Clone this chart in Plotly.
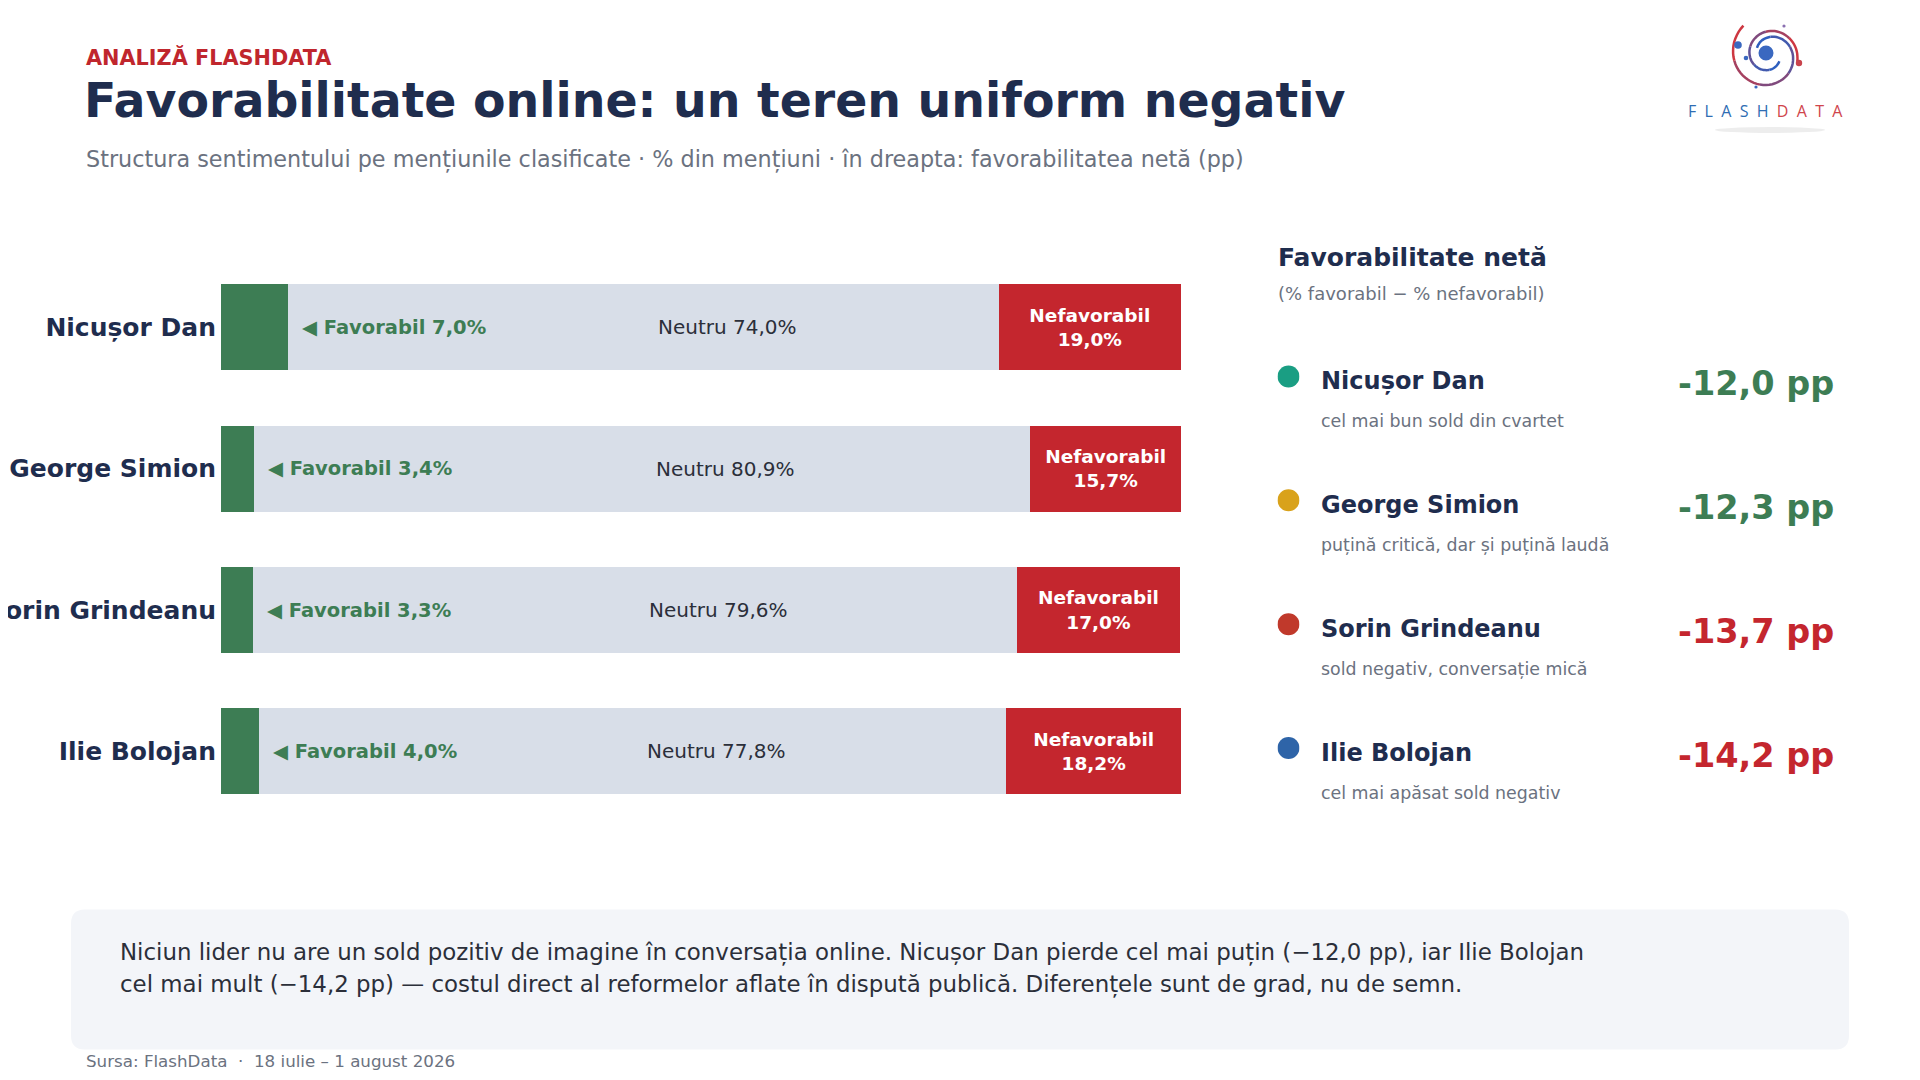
import numpy as np
import plotly.graph_objects as go

# date
candidati = ["Nicușor Dan", "George Simion", "Sorin Grindeanu", "Ilie Bolojan"]
favorabil = [7.0, 3.4, 3.3, 4.0]
neutru = [74.0, 80.9, 79.6, 77.8]
nefavorabil = [19.0, 15.7, 17.0, 18.2]
net = [-12.0, -12.3, -13.7, -14.2]
comentarii = ["cel mai bun sold din cvartet",
              "puțină critică, dar și puțină laudă",
              "sold negativ, conversație mică",
              "cel mai apăsat sold negativ"]
culori_puncte = ["#1a9e83", "#d9a21b", "#c0392b", "#2e64a8"]

W, H = 1920, 1080
FONT = "DejaVu Sans"
NAVY = "#1f2d4e"
GRAY = "#6b7280"
GREEN = "#3d7d54"
RED = "#c4262e"
NEUTRAL = "#d8dee8"


def fmt(v):
    return f"{v:.1f}".replace(".", ",")


def px(x):
    return x / W


def py(y):
    return 1 - y / H


fig = go.Figure()

fig.add_trace(go.Bar(y=candidati, x=favorabil, orientation="h", marker_color=GREEN,
                     width=0.61, hoverinfo="skip"))
fig.add_trace(go.Bar(y=candidati, x=neutru, orientation="h", marker_color=NEUTRAL,
                     width=0.61, hoverinfo="skip"))
fig.add_trace(go.Bar(y=candidati, x=nefavorabil, orientation="h", marker_color=RED,
                     width=0.61, hoverinfo="skip",
                     text=[f"<b>Nefavorabil<br>{fmt(v)}%</b>" for v in nefavorabil],
                     textposition="inside", insidetextanchor="middle",
                     constraintext="none",
                     textfont=dict(family=FONT, size=18.5, color="white")))

# puncte pentru panoul din dreapta
fig.add_trace(go.Scatter(x=[0] * len(candidati), y=list(range(len(candidati))),
                         xaxis="x2", yaxis="y2", mode="markers",
                         marker=dict(size=22, color=culori_puncte), hoverinfo="skip"))

ann = []
for i, name in enumerate(candidati):
    ann.append(dict(x=favorabil[i], y=name, xref="x", yref="y", xanchor="left",
                    xshift=12, showarrow=False,
                    text=f"<b>◀ Favorabil {fmt(favorabil[i])}%</b>",
                    font=dict(family=FONT, size=19.5, color=GREEN)))
    ann.append(dict(x=favorabil[i] + neutru[i] / 2, y=name, xref="x", yref="y",
                    xshift=84, showarrow=False,
                    text=f"Neutru {fmt(neutru[i])}%",
                    font=dict(family=FONT, size=20, color="#2b2f3a")))
    # panoul net
    ann.append(dict(x=px(1311), y=i, xref="paper", yref="y2", xanchor="left",
                    yanchor="middle", yshift=-5, showarrow=False,
                    text=f"<b>{name}</b>", font=dict(family=FONT, size=24, color=NAVY)))
    ann.append(dict(x=px(1311), y=i, xref="paper", yref="y2", xanchor="left",
                    yanchor="middle", yshift=-45, showarrow=False,
                    text=comentarii[i], font=dict(family=FONT, size=17.4, color=GRAY)))
    ann.append(dict(x=px(1828), y=i, xref="paper", yref="y2", xanchor="right",
                    yanchor="middle", yshift=-7, showarrow=False,
                    text=f"<b>{fmt(net[i])} pp</b>",
                    font=dict(family=FONT, size=33.5, color=GREEN if net[i] > -13 else RED)))

texts = [
    (76, 50, "<b>ANALIZĂ FLASHDATA</b>", 20.8, "#c0262d"),
    (74, 92.5, "<b>Favorabilitate online: un teren uniform negativ</b>", 47.4, NAVY),
    (76, 151, "Structura sentimentului pe mențiunile clasificate · % din mențiuni · "
              "în dreapta: favorabilitatea netă (pp)", 22.3, GRAY),
    (1268, 249, "<b>Favorabilitate netă</b>", 25, NAVY),
    (1268, 285.5, "(% favorabil − % nefavorabil)", 18, GRAY),
    (110, 944, "Niciun lider nu are un sold pozitiv de imagine în conversația online. "
               "Nicușor Dan pierde cel mai puțin (−12,0 pp), iar Ilie Bolojan", 22.9, "#2b2f3a"),
    (110, 976, "cel mai mult (−14,2 pp) — costul direct al reformelor aflate în "
               "dispută publică. Diferențele sunt de grad, nu de semn.", 22.9, "#2b2f3a"),
    (76, 1052.5, "Sursa: FlashData  ·  18 iulie – 1 august 2026", 16.7, GRAY),
]
for x, y, t, s, c in texts:
    ann.append(dict(x=px(x), y=py(y), xref="paper", yref="paper", xanchor="left",
                    yanchor="middle", showarrow=False, text=t,
                    font=dict(family=FONT, size=s, color=c)))

# logo
LX, LY = 1761, 47
ann.append(dict(x=px(1757), y=py(103.5), xref="paper", yref="paper", xanchor="center",
                yanchor="middle", showarrow=False,
                text='<span style="color:#2f6db3">F  L  A  S  H</span>  '
                     '<span style="color:#d0454c">D  A  T  A</span>',
                font=dict(family="Open Sans", size=16)))

shapes = []
# fundal caseta de concluzie (colturi rotunjite)
w, h, r = 889, 70, 14
box = (f"M {-w + r},{-h} L {w - r},{-h} Q {w},{-h} {w},{-h + r} L {w},{h - r} "
       f"Q {w},{h} {w - r},{h} L {-w + r},{h} Q {-w},{h} {-w},{h - r} "
       f"L {-w},{-h + r} Q {-w},{-h} {-w + r},{-h} Z")
shapes.append(dict(type="path", xref="paper", yref="paper", xsizemode="pixel",
                   ysizemode="pixel", xanchor=px(952), yanchor=py(971.5), path=box,
                   fillcolor="#f3f5f9", line=dict(width=0), layer="below"))

# logo: umbra + spirala
shapes.append(dict(type="circle", xref="paper", yref="paper", xsizemode="pixel",
                   ysizemode="pixel", xanchor=px(1762), yanchor=py(122),
                   x0=-55, x1=55, y0=-3, y1=3, fillcolor="rgba(0,0,0,0.07)",
                   line=dict(width=0), layer="below"))
blue, red = np.array([47, 95, 190]), np.array([205, 55, 65])
for start, r0, r1, turns in [(2.6, 14, 39, 1.05), (2.6 + np.pi, 12, 29, 0.95)]:
    th = np.linspace(0, 2 * np.pi * turns, 66)
    rad = r0 + (r1 - r0) * th / th[-1]
    segs = 6
    for k in range(segs):
        a, b = k * 11, k * 11 + 12
        pts = [f"{rr * np.cos(start - t):.1f},{rr * np.sin(start - t):.1f}"
               for t, rr in zip(th[a:b], rad[a:b])]
        c = blue + (red - blue) * (k / (segs - 1)) ** 1.3
        shapes.append(dict(type="path", xref="paper", yref="paper", xsizemode="pixel",
                           ysizemode="pixel", xanchor=px(LX), yanchor=py(LY),
                           path="M " + " L ".join(pts),
                           line=dict(color=f"rgb({int(c[0])},{int(c[1])},{int(c[2])})",
                                     width=2.5)))
shapes.append(dict(type="circle", xref="paper", yref="paper", xsizemode="pixel",
                   ysizemode="pixel", xanchor=px(LX - 3), yanchor=py(LY - 2),
                   x0=-7.5, x1=7.5, y0=-7.5, y1=7.5, fillcolor="#3a68c0", line=dict(width=0)))
for dx, dy, rr, col in [(-31, 10, 3.8, "#3a68c0"), (30, -8, 3.2, "#c9434c"),
                        (-23, -3, 2.3, "#3a68c0"), (15, 29, 1.6, "#8a6fb0"),
                        (-13, -32, 1.6, "#3a68c0")]:
    shapes.append(dict(type="circle", xref="paper", yref="paper", xsizemode="pixel",
                       ysizemode="pixel", xanchor=px(LX), yanchor=py(LY),
                       x0=dx - rr, x1=dx + rr, y0=dy - rr, y1=dy + rr,
                       fillcolor=col, line=dict(width=0)))

fig.update_layout(
    template="none",
    width=W, height=H, barmode="stack", showlegend=False,
    paper_bgcolor="white", plot_bgcolor="white",
    margin=dict(l=0, r=0, t=0, b=0, autoexpand=False),
    font=dict(family=FONT),
    xaxis=dict(domain=[px(213), px(1173)], range=[0, 100], visible=False,
               automargin=False, fixedrange=True),
    yaxis=dict(domain=[py(814), py(248.7)], categoryorder="array", categoryarray=candidati,
               autorange="reversed", showgrid=False, zeroline=False, showline=False,
               ticks="", ticklabelstandoff=4, automargin=False,
               tickfont=dict(family=FONT, size=25, color=NAVY, weight="bold")),
    xaxis2=dict(domain=[px(1269.5), px(1291.5)], range=[-1, 1], visible=False, anchor="y2",
                automargin=False),
    yaxis2=dict(domain=[py(802), py(306.5)], range=[3.5, -0.5], visible=False, anchor="x2",
                automargin=False),
    annotations=ann, shapes=shapes,
)

fig.write_html("out.html")
